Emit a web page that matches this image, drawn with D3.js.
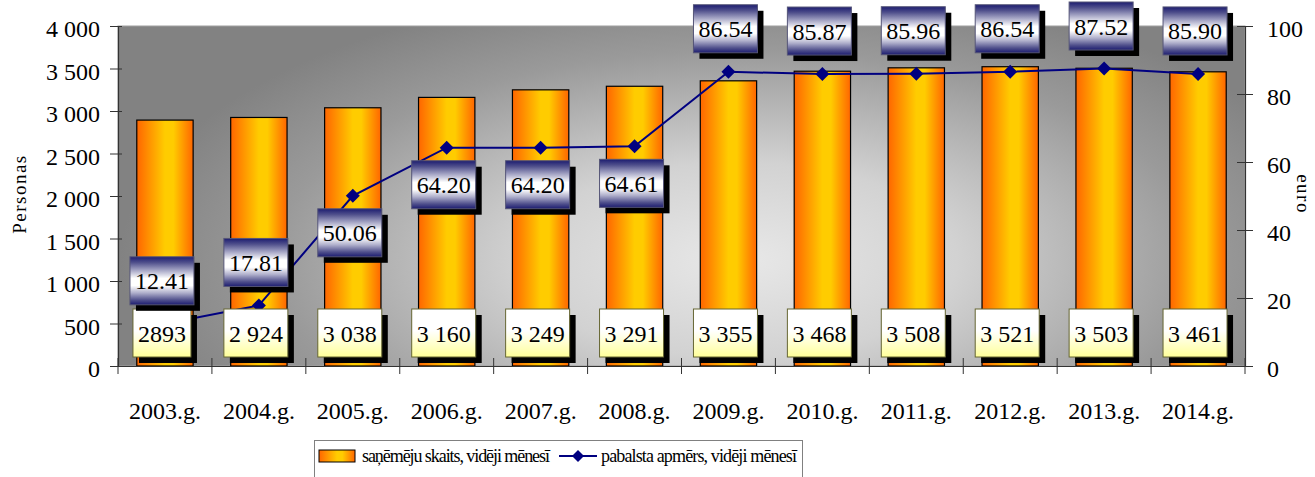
<!DOCTYPE html>
<html><head><meta charset="utf-8">
<script src="https://cdn.jsdelivr.net/npm/d3@7/dist/d3.min.js"></script>
</head><body style="margin:0;background:#fff">
<svg id="c" width="1315" height="477" style="display:block"></svg>
<script>
const categories = ["2003.g.","2004.g.","2005.g.","2006.g.","2007.g.","2008.g.","2009.g.","2010.g.","2011.g.","2012.g.","2013.g.","2014.g."];
const recipients = [2893,2924,3038,3160,3249,3291,3355,3468,3508,3521,3503,3461];
const recipientLabels = ["2893","2 924","3 038","3 160","3 249","3 291","3 355","3 468","3 508","3 521","3 503","3 461"];
const benefit = [12.41,17.81,50.06,64.20,64.20,64.61,86.54,85.87,85.96,86.54,87.52,85.90];
const benefitLabelSide = ["above","above","below","below","below","below","above","above","above","above","above","above"];
const leftTicks = [0,500,1000,1500,2000,2500,3000,3500,4000];
const rightTicks = [0,20,40,60,80,100];
const seriesNames = ["saņēmēju skaits, vidēji mēnesī","pabalsta apmērs, vidēji mēnesī"];
const axisTitles = ["Personas","euro"];

const FONT = "Liberation Serif";
const svg = d3.select("#c");
const L = 118, R = 1245, T = 26, B = 366;
const x = d3.scaleBand().domain(categories).range([L,R]).paddingInner(0.4).paddingOuter(0.2);
const yL = d3.scaleLinear().domain([0,4000]).range([B,T]);
const yR = d3.scaleLinear().domain([0,100]).range([B,T]);
const fmtL = d => d3.format(",")(d).replace(/,/g," ");

const defs = svg.append("defs");
const bg = defs.append("radialGradient").attr("id","bg").attr("gradientUnits","userSpaceOnUse")
  .attr("cx",740).attr("cy",260).attr("r",620)
  .attr("gradientTransform","translate(0,260) scale(1,0.45) translate(0,-260)");
bg.append("stop").attr("offset","0").attr("stop-color","#e8e8e8");
bg.append("stop").attr("offset","0.35").attr("stop-color","#d2d2d2");
bg.append("stop").attr("offset","0.75").attr("stop-color","#9a9a9a");
bg.append("stop").attr("offset","1").attr("stop-color","#828282");
const bar = defs.append("linearGradient").attr("id","bar").attr("x1",0).attr("x2",1).attr("y1",0).attr("y2",0);
[["0","#ff6600"],["0.5","#ffcc00"],["0.65","#ffcc00"],["1","#ff6600"]].forEach(s=>bar.append("stop").attr("offset",s[0]).attr("stop-color",s[1]));
const yb = defs.append("linearGradient").attr("id","ybox").attr("x1",0).attr("x2",0).attr("y1",0).attr("y2",1);
[["0","#ffffff"],["0.45","#ffffff"],["1","#ffff99"]].forEach(s=>yb.append("stop").attr("offset",s[0]).attr("stop-color",s[1]));
const bb = defs.append("linearGradient").attr("id","bbox").attr("x1",0).attr("x2",0).attr("y1",0).attr("y2",1);
[["0","#1c1c70"],["0.12","#50508c"],["0.3","#b0b0cc"],["0.45","#ffffff"],["0.6","#ffffff"],["0.75","#b0b0cc"],["0.9","#50508c"],["1","#1c1c70"]].forEach(s=>bb.append("stop").attr("offset",s[0]).attr("stop-color",s[1]));

// plot background
svg.append("rect").attr("x",L).attr("y",T).attr("width",R-L).attr("height",B-T).attr("fill","url(#bg)").attr("stroke","#a0a0a0").attr("stroke-width",1);

// bars
svg.append("g").selectAll("rect").data(recipients).join("rect")
  .attr("x",(d,i)=>x(categories[i])).attr("y",d=>yL(d))
  .attr("width",x.bandwidth()).attr("height",d=>B-yL(d))
  .attr("fill","url(#bar)").attr("stroke","#000").attr("stroke-width",1.2);

// axes
const axL = svg.append("g").attr("transform",`translate(${L},0)`)
  .call(d3.axisLeft(yL).tickValues(leftTicks).tickFormat(fmtL).tickSizeInner(8).tickSizeOuter(0).tickPadding(10));
const axR = svg.append("g").attr("transform",`translate(${R},0)`)
  .call(d3.axisRight(yR).tickValues(rightTicks).tickSizeInner(8).tickSizeOuter(0).tickPadding(14));
const axX = svg.append("g").attr("transform",`translate(0,${B})`)
  .call(d3.axisBottom(x).tickSize(0).tickPadding(36));
[axL,axR,axX].forEach(a=>{a.attr("font-family",null);a.selectAll("text").attr("font-size",24).attr("fill","#000").style("font-family",FONT);a.select(".domain").attr("stroke","#333").attr("stroke-width",1.2);a.selectAll(".tick line").attr("stroke","#333");});
axL.selectAll("text").attr("dy","0.45em");
axR.selectAll("text").attr("dy","0.45em");
axL.selectAll(".tick line").attr("x1",4);
axR.selectAll(".tick line").attr("x1",-8).attr("x2",8);
// category boundary ticks
const bounds = d3.range(categories.length+1).map(i=>L+i*(R-L)/categories.length);
svg.append("g").selectAll("line").data(bounds).join("line")
  .attr("x1",d=>d).attr("x2",d=>d).attr("y1",B-8).attr("y2",B+8).attr("stroke","#333").attr("stroke-width",1);

// line
const cx = i => x(categories[i]) + x.bandwidth()/2;
svg.append("path").datum(benefit)
  .attr("d",d3.line().x((d,i)=>cx(i)).y(d=>yR(d)))
  .attr("fill","none").attr("stroke","#000080").attr("stroke-width",2);
svg.append("g").selectAll("path").data(benefit).join("path")
  .attr("transform",(d,i)=>`translate(${cx(i)},${yR(d)})`)
  .attr("d","M0,-7L7,0L0,7L-7,0Z").attr("fill","#000080");

// labels
function labelBox(g, cxp, cyp, txt, fill, stroke){
  const t = g.append("text").attr("x",cxp).attr("y",cyp+8.5).attr("text-anchor","middle").attr("font-size",24).style("font-family",FONT).text(txt);
  const tw = t.node().getComputedTextLength();
  t.remove();
  const w = tw + 10, h = 48;
  const gx = cxp - w/2, gy = cyp - h/2;
  g.append("rect").attr("x",gx+6).attr("y",gy+6).attr("width",w).attr("height",h).attr("fill","#000");
  g.append("rect").attr("x",gx).attr("y",gy).attr("width",w).attr("height",h).attr("fill",fill).attr("stroke",stroke).attr("stroke-width",1);
  g.append("text").attr("x",cxp).attr("y",cyp+8.5).attr("text-anchor","middle").attr("font-size",24).style("font-family",FONT).text(txt);
}
const lg = svg.append("g");
recipients.forEach((d,i)=>labelBox(lg, cx(i)-3, 333, recipientLabels[i], "url(#ybox)", "#666633"));
benefit.forEach((d,i)=>{
  let c = benefitLabelSide[i]==="above" ? yR(d)-43 : yR(d)+37;
  c = Math.max(c, 26);
  labelBox(lg, cx(i)-3, c, d.toFixed(2), "url(#bbox)", "#555577");
});

// axis titles
svg.append("text").attr("transform","translate(26,194) rotate(-90)").attr("text-anchor","middle")
  .attr("font-size",19).attr("letter-spacing",1.5).style("font-family",FONT).text(axisTitles[0]);
svg.append("text").attr("transform","translate(1297,194) rotate(90)").attr("text-anchor","middle")
  .attr("font-size",19).attr("letter-spacing",1.5).style("font-family",FONT).text(axisTitles[1]);

// legend
const leg = svg.append("g");
leg.append("rect").attr("x",314.5).attr("y",440.5).attr("width",488).attr("height",50).attr("fill","#fff").attr("stroke","#808080");
leg.append("rect").attr("x",319).attr("y",450).attr("width",36).attr("height",12).attr("fill","url(#bar)").attr("stroke","#000");
leg.append("text").attr("x",362).attr("y",462).attr("font-size",18).attr("textLength",188).attr("lengthAdjust","spacing").style("font-family",FONT).text(seriesNames[0]);
leg.append("line").attr("x1",559).attr("x2",597).attr("y1",456).attr("y2",456).attr("stroke","#000080").attr("stroke-width",2);
leg.append("path").attr("transform","translate(578,456)").attr("d","M0,-6L6,0L0,6L-6,0Z").attr("fill","#000080");
leg.append("text").attr("x",601).attr("y",462).attr("font-size",18).attr("textLength",196).attr("lengthAdjust","spacing").style("font-family",FONT).text(seriesNames[1]);
</script>
</body></html>
